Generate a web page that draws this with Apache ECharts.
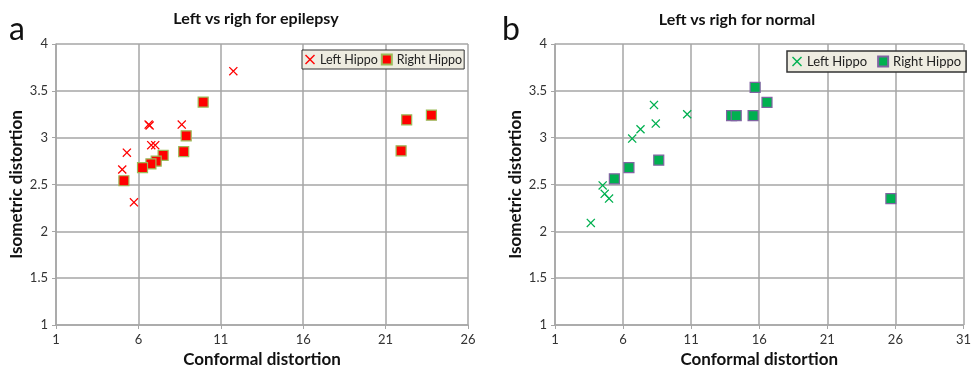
<!DOCTYPE html>
<html>
<head>
<meta charset="utf-8">
<script src="https://cdn.jsdelivr.net/npm/echarts@6/dist/echarts.min.js"></script>
<style>
  html, body { margin: 0; padding: 0; background: #fff; }
  #chart { width: 974px; height: 373px; }
</style>
</head>
<body>
<div id="chart"></div>
<script>
// epilepsy panel (a)
var epiLeft = [
    [11.76, 3.71], [6.62, 3.14], [6.68, 3.13], [8.63, 3.14], [6.78, 2.92],
    [7.02, 2.92], [5.30, 2.84], [5.02, 2.66], [5.73, 2.31]
];
var epiRight = [
    [9.93, 3.38], [22.28, 3.19], [23.78, 3.24], [21.94, 2.86], [8.90, 3.02],
    [8.75, 2.85], [7.50, 2.81], [7.08, 2.75], [6.76, 2.72], [6.25, 2.68],
    [5.12, 2.54]
];
// normal panel (b)
var normLeft = [
    [3.63, 2.09], [4.50, 2.49], [4.65, 2.40], [4.97, 2.35], [6.67, 2.99],
    [7.28, 3.09], [8.27, 3.35], [8.40, 3.15], [10.71, 3.25]
];
var normRight = [
    [5.36, 2.56], [6.43, 2.68], [8.62, 2.76], [13.97, 3.235], [14.31, 3.235],
    [15.55, 3.235], [15.70, 3.536], [16.57, 3.377], [25.67, 2.35]
];
var seriesNames = ['Left Hippo', 'Right Hippo'];
var titles = ['Left vs righ for epilepsy', 'Left vs righ for normal'];
var xMax = [26, 31];

var font = 'Lato, "Open Sans", sans-serif';
var crossPath = 'path://M0,1L1,0L5,4L9,0L10,1L6,5L10,9L9,10L5,6L1,10L0,9L4,5Z';
var gridColor = '#a6a6a6';

function xAxisFor(idx) {
    return {
        type: 'value', gridIndex: idx, min: 1, max: xMax[idx], interval: 5,
        name: 'Conformal distortion', nameLocation: 'middle', nameGap: 26,
        nameTextStyle: { fontFamily: font, fontWeight: 'bold', fontSize: 17, color: '#111' },
        axisLine: { show: true, lineStyle: { color: gridColor, width: 1.5 } },
        axisTick: { show: true, length: 4, lineStyle: { color: gridColor } },
        axisLabel: { fontFamily: font, fontSize: 13, color: '#333', margin: 8 },
        splitLine: { show: true, lineStyle: { color: gridColor, width: 1.5 } }
    };
}
function yAxisFor(idx) {
    return {
        type: 'value', gridIndex: idx, min: 1, max: 4, interval: 0.5,
        name: 'Isometric distortion', nameLocation: 'middle', nameGap: 31,
        nameTextStyle: { fontFamily: font, fontWeight: 'bold', fontSize: 17, color: '#111' },
        axisLine: { show: true, lineStyle: { color: gridColor, width: 1.5 } },
        axisTick: { show: true, length: 4, lineStyle: { color: gridColor } },
        axisLabel: { fontFamily: font, fontSize: 13, color: '#333', margin: 8 },
        splitLine: { show: true, lineStyle: { color: gridColor, width: 1.5 } }
    };
}

var chart = echarts.init(document.getElementById('chart'));
var option = {
    animation: false,
    backgroundColor: '#fff',
    title: [
        { text: titles[0], left: 251, top: 6, textAlign: 'center',
          textStyle: { fontFamily: font, fontWeight: 'bold', fontSize: 16, color: '#111' } },
        { text: titles[1], left: 732, top: 7, textAlign: 'center',
          textStyle: { fontFamily: font, fontWeight: 'bold', fontSize: 16, color: '#111' } }
    ],
    graphic: [
        { type: 'text', left: 9, top: 14, style: { text: 'a', font: '32px ' + font, fill: '#111' } },
        { type: 'text', left: 502, top: 14, style: { text: 'b', font: '32px ' + font, fill: '#111' } }
    ],
    legend: [
        {
            data: [
                { name: 'ep-L', icon: crossPath },
                { name: 'ep-R', icon: 'rect' }
            ],
            formatter: function (n) { return n === 'ep-L' ? seriesNames[0] : seriesNames[1]; },
            left: 302, top: 50, itemWidth: 10, itemHeight: 10, itemGap: 3,
            padding: [3, 2, 3, 3],
            backgroundColor: '#eeece1', borderColor: '#333', borderWidth: 1,
            textStyle: { fontFamily: font, fontSize: 12.5, color: '#222' }
        },
        {
            data: [
                { name: 'nm-L', icon: crossPath },
                { name: 'nm-R', icon: 'rect' }
            ],
            formatter: function (n) { return n === 'nm-L' ? seriesNames[0] : seriesNames[1]; },
            left: 787, top: 51, itemWidth: 10, itemHeight: 10, itemGap: 10,
            padding: [4, 5, 4, 5],
            backgroundColor: '#eeece1', borderColor: '#333', borderWidth: 1.5,
            textStyle: { fontFamily: font, fontSize: 13, color: '#222' }
        }
    ],
    grid: [
        { left: 56, top: 44, width: 412, height: 281 },
        { left: 555, top: 44, width: 411, height: 282 }
    ],
    xAxis: [xAxisFor(0), xAxisFor(1)],
    yAxis: [yAxisFor(0), yAxisFor(1)],
    series: [
        {
            name: 'ep-L', type: 'scatter', xAxisIndex: 0, yAxisIndex: 0,
            data: epiLeft, symbol: crossPath, symbolSize: 9,
            itemStyle: { color: '#ff0000', opacity: 1 }
        },
        {
            name: 'ep-R', type: 'scatter', xAxisIndex: 0, yAxisIndex: 0,
            data: epiRight, symbol: 'rect', symbolSize: 10,
            itemStyle: { color: '#ff0000', borderColor: '#9bbb59', borderWidth: 1.2, opacity: 1 }
        },
        {
            name: 'nm-L', type: 'scatter', xAxisIndex: 1, yAxisIndex: 1,
            data: normLeft, symbol: crossPath, symbolSize: 9,
            itemStyle: { color: '#00b050', opacity: 1 }
        },
        {
            name: 'nm-R', type: 'scatter', xAxisIndex: 1, yAxisIndex: 1,
            data: normRight, symbol: 'rect', symbolSize: 10,
            itemStyle: { color: '#00b050', borderColor: '#8064a2', borderWidth: 1.2, opacity: 1 }
        }
    ]
};
chart.setOption(option);
</script>
</body>
</html>
